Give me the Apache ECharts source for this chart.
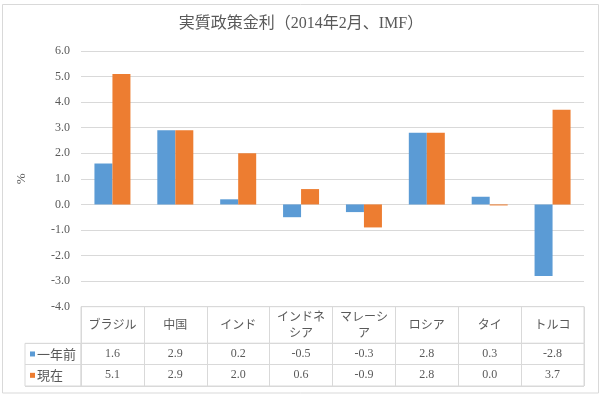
<!DOCTYPE html>
<html>
<head>
<meta charset="utf-8">
<script src="https://cdn.jsdelivr.net/npm/echarts@6/dist/echarts.min.js"></script>
<style>
html, body { margin: 0; padding: 0; background: #fff; }
#chart { width: 602px; height: 399px; }
</style>
</head>
<body>
<div id="chart"></div>
<script>
// データ
var categories = ['ブラジル', '中国', 'インド', 'インドネシア', 'マレーシア', 'ロシア', 'タイ', 'トルコ'];
var seriesNames = ['一年前', '現在'];
var yearAgo = [1.6, 2.9, 0.2, -0.5, -0.3, 2.8, 0.3, -2.8];
var current = [5.1, 2.9, 2.0, 0.6, -0.9, 2.8, -0.04, 3.7];
var yMin = -4, yMax = 6, yStep = 1;

var colors = ['#5B9BD5', '#ED7D31'];
var textColor = '#595959';
var lineColor = '#D9D9D9';
var serif = "'Liberation Serif', 'Noto Sans CJK JP', serif";
var gothic = "'Noto Sans CJK JP', sans-serif";

function fmt(v) {
    var s = v.toFixed(1);
    return s === '-0.0' ? '0.0' : s;
}

// 表の数値 [列, 行, 値]
var tableData = [];
categories.forEach(function (c, i) {
    tableData.push([i, 0, yearAgo[i]]);
    tableData.push([i, 1, current[i]]);
});

var myChart = echarts.init(document.getElementById('chart'));

var option = {
    animation: false,
    textStyle: { fontFamily: serif, color: textColor },
    title: {
        text: '実質政策金利（2014年2月、IMF）',
        left: 'center',
        top: 16,
        padding: 0,
        textStyle: { fontSize: 16, fontWeight: 'normal', color: textColor, fontFamily: serif }
    },
    graphic: [{
        type: 'rect',
        shape: { x: 2.5, y: 4.5, width: 596, height: 388.5 },
        style: { fill: 'none', stroke: lineColor, lineWidth: 1 },
        silent: true
    }],
    grid: [
        // グラフ本体
        { left: 81, right: 18, top: 51, height: 255.7 },
        // 表：見出し行
        { left: 81, right: 18, top: 306.7, height: 36.6, show: true, borderColor: lineColor, borderWidth: 1 },
        // 表：数値
        { left: 81, right: 18, top: 343.3, height: 42.7, show: true, borderColor: lineColor, borderWidth: 1 },
        // 表：系列名
        { left: 25, width: 56, top: 343.3, height: 42.7, show: true, borderColor: lineColor, borderWidth: 1 }
    ],
    xAxis: [
        {
            type: 'category', gridIndex: 0, data: categories,
            axisLine: { show: false, onZero: false },
            axisTick: { show: false },
            axisLabel: {
                interval: 0, margin: 18, verticalAlign: 'middle', lineHeight: 16,
                fontSize: 12, color: textColor, fontFamily: gothic,
                formatter: function (v) { return v.length > 4 ? v.slice(0, 4) + '\n' + v.slice(4) : v; }
            }
        },
        {
            type: 'category', gridIndex: 1, data: categories,
            axisLine: { show: false }, axisTick: { show: false }, axisLabel: { show: false },
            splitLine: { show: true, interval: 0, lineStyle: { color: lineColor } }
        },
        {
            type: 'category', gridIndex: 2, data: categories,
            axisLine: { show: false }, axisTick: { show: false }, axisLabel: { show: false },
            splitLine: { show: true, interval: 0, lineStyle: { color: lineColor } }
        },
        { type: 'value', gridIndex: 3, show: false }
    ],
    yAxis: [
        {
            type: 'value', gridIndex: 0, min: yMin, max: yMax, interval: yStep,
            name: '%', nameLocation: 'middle', nameGap: 53, nameRotate: 90,
            nameTextStyle: { fontSize: 13, color: textColor, fontFamily: serif },
            axisLine: { show: false }, axisTick: { show: false },
            axisLabel: { margin: 11, fontSize: 12, color: textColor, formatter: function (v) { return v.toFixed(1); } },
            splitLine: { lineStyle: { color: lineColor } }
        },
        { type: 'value', gridIndex: 1, show: false },
        {
            type: 'category', gridIndex: 2, data: seriesNames, inverse: true,
            axisLine: { show: false }, axisTick: { show: false }, axisLabel: { show: false },
            splitLine: { show: true, interval: 0, lineStyle: { color: lineColor } }
        },
        {
            type: 'category', gridIndex: 3, data: seriesNames, inverse: true,
            axisLine: { show: false }, axisTick: { show: false },
            splitLine: { show: true, interval: 0, lineStyle: { color: lineColor } },
            axisLabel: {
                inside: true, margin: 5, interval: 0,
                formatter: function (v, i) { return '{' + (i === 0 ? 'a' : 'b') + '|}{t|' + v + '}'; },
                rich: {
                    a: { width: 5, height: 5, backgroundColor: colors[0] },
                    b: { width: 5, height: 5, backgroundColor: colors[1] },
                    t: { fontSize: 13, color: textColor, fontFamily: gothic, padding: [0, 0, 0, 2] }
                }
            }
        }
    ],
    series: [
        {
            name: seriesNames[0], type: 'bar', xAxisIndex: 0, yAxisIndex: 0,
            data: yearAgo, barWidth: 18, barGap: '0%',
            itemStyle: { color: colors[0] }
        },
        {
            name: seriesNames[1], type: 'bar', xAxisIndex: 0, yAxisIndex: 0,
            data: current, barWidth: 18, barGap: '0%',
            itemStyle: { color: colors[1] }
        },
        {
            type: 'custom', xAxisIndex: 2, yAxisIndex: 2,
            encode: { x: 0, y: 1 },
            data: tableData,
            renderItem: function (params, api) {
                var p = api.coord([api.value(0), api.value(1)]);
                return {
                    type: 'text', x: p[0], y: p[1],
                    style: {
                        text: fmt(api.value(2)), align: 'center', verticalAlign: 'middle',
                        fill: textColor, font: '12px ' + serif
                    }
                };
            }
        }
    ]
};

myChart.setOption(option);
</script>
</body>
</html>
